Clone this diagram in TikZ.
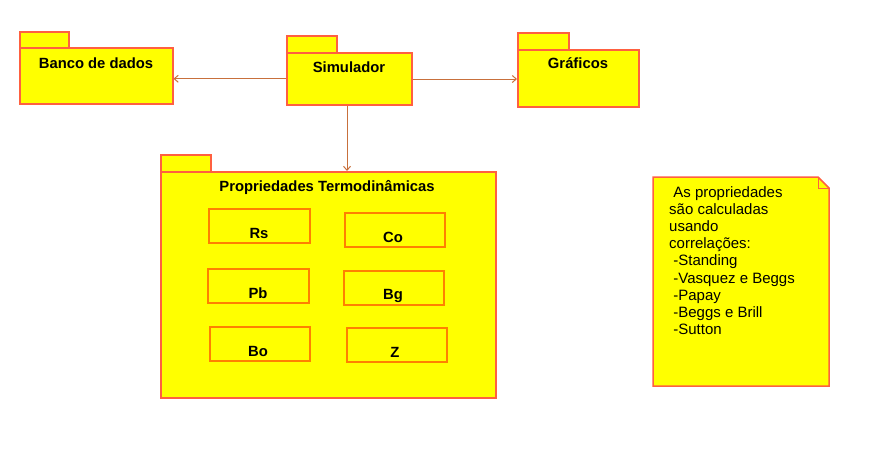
\documentclass[tikz,border=0pt]{standalone}
\usepackage{fontspec}
\setmainfont{Liberation Sans}
\usetikzlibrary{arrows.meta}
\definecolor{pkgborder}{HTML}{FF6040}
\definecolor{boxborder}{HTML}{FF8000}
\definecolor{arrowcol}{HTML}{C8703C}
\definecolor{pkgfill}{HTML}{FFFF00}
\tikzset{
  pkg/.style={draw=pkgborder, fill=pkgfill, line width=1.5pt, inner sep=0pt, anchor=north west},
  inbox/.style={draw=boxborder, fill=pkgfill, line width=1.8pt, inner sep=0pt, anchor=north west},
  ttl/.style={font=\fontsize{14.8pt}{16pt}\selectfont\bfseries, anchor=base, inner sep=0pt},
  conn/.style={draw=arrowcol, line width=1pt, -{Straight Barb[length=4pt,width=7pt]}},
}
\begin{document}
\begin{tikzpicture}[x=1pt,y=-1pt]
\useasboundingbox (0,0) rectangle (883,464);
% Banco de dados
\node[pkg, minimum width=49pt, minimum height=16pt] (bancotab) at (19,31) {};
\node[pkg, minimum width=153pt, minimum height=56pt] (banco) at (19,47) {};
\node[ttl] (bancot) at (96,68) {Banco de dados};
% Simulador
\node[pkg, minimum width=50pt, minimum height=17pt] (simtab) at (286,35) {};
\node[pkg, minimum width=125pt, minimum height=52pt] (sim) at (286,52) {};
\node[ttl] (simt) at (349,72) {Simulador};
% Graficos
\node[pkg, minimum width=51pt, minimum height=17pt] (graftab) at (517,32) {};
\node[pkg, minimum width=121pt, minimum height=57pt] (graf) at (517,49) {};
\node[ttl] (graft) at (578,68) {Gráficos};
% Propriedades
\node[pkg, minimum width=50pt, minimum height=17pt] (proptab) at (160,154) {};
\node[pkg, minimum width=335pt, minimum height=226pt] (prop) at (160,171) {};
\node[ttl] (propt) at (327,191) {Propriedades Termodinâmicas};
% inner boxes
\node[inbox, minimum width=101pt, minimum height=34pt] (rs) at (208,208) {};
\node[ttl] at (259,238) {Rs};
\node[inbox, minimum width=100pt, minimum height=34pt] (co) at (344,212) {};
\node[ttl] at (393,242) {Co};
\node[inbox, minimum width=101pt, minimum height=34pt] (pb) at (207,268) {};
\node[ttl] at (258,298) {Pb};
\node[inbox, minimum width=100pt, minimum height=34pt] (bg) at (343,270) {};
\node[ttl] at (393,299) {Bg};
\node[inbox, minimum width=100pt, minimum height=34pt] (bo) at (209,326) {};
\node[ttl] at (258,356) {Bo};
\node[inbox, minimum width=100pt, minimum height=34pt] (z) at (346,327) {};
\node[ttl] at (395,357) {Z};
% connectors
\draw[conn] (sim.west) -- (banco.east |- sim.west);
\draw[conn] (sim.east |- 0,79) -- (graf.west |- 0,79);
\draw[conn] (sim.south -| 347,0) -- (prop.north -| 347,0);
% note
\draw[draw=pkgborder, fill=pkgfill, line width=1.5pt, line join=miter]
  (653,177) -- (818,177) -- (829,188) -- (829,386) -- (653,386) -- cycle;
\draw[draw=pkgborder, line width=1pt] (818,177) -- (818,188) -- (829,188);
\node[anchor=north west, align=left, inner sep=0pt, font=\fontsize{15pt}{17.2pt}\selectfont] (note) at (669,186)
 {\ As propriedades\\
  são calculadas\\
  usando\\
  correlações:\\
  \ -Standing\\
  \ -Vasquez e Beggs\\
  \ -Papay\\
  \ -Beggs e Brill\\
  \ -Sutton};
\end{tikzpicture}
\end{document}
